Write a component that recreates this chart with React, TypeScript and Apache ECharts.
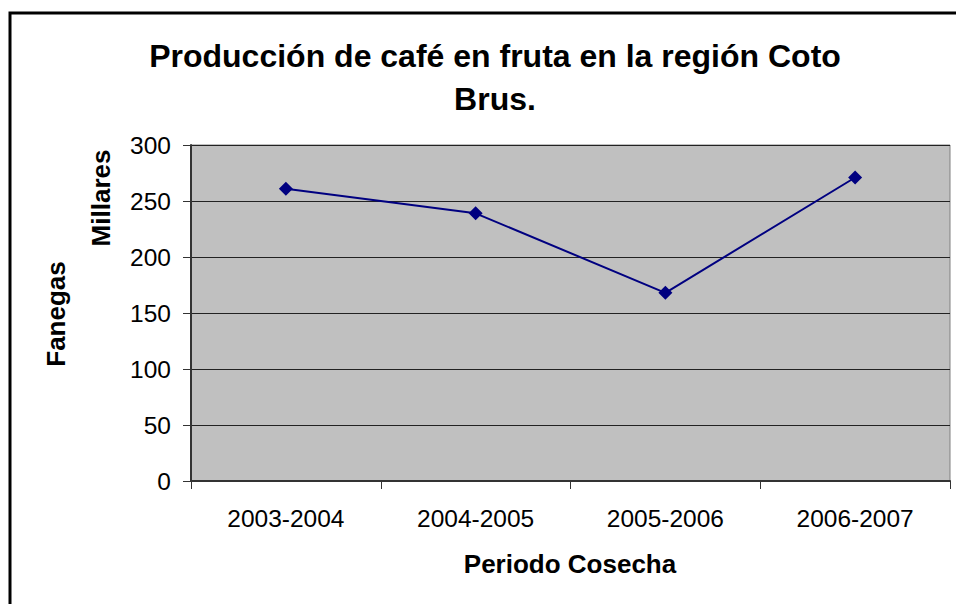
import React, { useEffect, useRef } from "react";
import * as echarts from "echarts";

const titleLines = ["Producción de café en fruta en la región Coto", "Brus."];
const categories = ["2003-2004", "2004-2005", "2005-2006", "2006-2007"];
const values = [261, 239, 168, 271];
const yTicks = { min: 0, max: 300, interval: 50 };
const xAxisName = "Periodo Cosecha";
const yAxisName = "Fanegas";
const yUnitName = "Millares";

const FONT = "'Liberation Sans', Arial, sans-serif";

export default function App() {
  const ref = useRef<HTMLDivElement>(null);
  useEffect(() => {
    document.body.style.margin = "0";
    const chart = echarts.init(ref.current!, null, { renderer: "svg" });
    chart.setOption({
      animation: false,
      backgroundColor: "#ffffff",
      title: {
        text: titleLines.join("\n"),
        left: 490,
        top: 29,
        textAlign: "center",
        textStyle: {
          fontFamily: FONT,
          fontSize: 32,
          fontWeight: "bold",
          color: "#000",
          lineHeight: 43,
        },
      },
      grid: {
        left: 191,
        top: 145,
        right: 6,
        bottom: 123,
        show: true,
        backgroundColor: "#C0C0C0",
        borderColor: "#808080",
        borderWidth: 1,
      },
      xAxis: {
        type: "category",
        data: categories,
        boundaryGap: true,
        axisLine: { show: true, lineStyle: { color: "#333", width: 2 } },
        axisTick: { show: true, length: 8, lineStyle: { color: "#333", width: 1 } },
        axisLabel: {
          margin: 25,
          fontFamily: FONT,
          fontSize: 24.5,
          color: "#000",
        },
        splitLine: { show: false },
      },
      yAxis: {
        type: "value",
        min: yTicks.min,
        max: yTicks.max,
        interval: yTicks.interval,
        axisLine: { show: true, lineStyle: { color: "#333", width: 2 } },
        axisTick: { show: true, length: 8, lineStyle: { color: "#333", width: 1 } },
        axisLabel: {
          margin: 20,
          fontFamily: FONT,
          fontSize: 24.5,
          color: "#000",
        },
        splitLine: { show: true, lineStyle: { color: "#222", width: 1 } },
      },
      graphic: [
        {
          type: "rect",
          shape: { x: 10, y: 13, width: 1100, height: 800 },
          style: { fill: "none", stroke: "#000", lineWidth: 3 },
          silent: true,
          z: -10,
        },
        {
          type: "text",
          x: 570,
          y: 564,
          style: {
            text: xAxisName,
            font: `bold 26px ${FONT}`,
            fill: "#000",
            align: "center",
            verticalAlign: "middle",
          },
        },
        {
          type: "text",
          x: 56,
          y: 314,
          rotation: Math.PI / 2,
          style: {
            text: yAxisName,
            font: `bold 26px ${FONT}`,
            fill: "#000",
            align: "center",
            verticalAlign: "middle",
          },
        },
        {
          type: "text",
          x: 101,
          y: 198,
          rotation: Math.PI / 2,
          style: {
            text: yUnitName,
            font: `bold 26px ${FONT}`,
            fill: "#000",
            align: "center",
            verticalAlign: "middle",
          },
        },
      ],
      series: [
        {
          type: "line",
          data: values,
          symbol: "diamond",
          symbolSize: 14,
          lineStyle: { color: "#000080", width: 2 },
          itemStyle: { color: "#000080" },
        },
      ],
    });
    return () => chart.dispose();
  }, []);
  return (
    <div
      ref={ref}
      style={{ position: "fixed", left: 0, top: 0, width: 956, height: 604 }}
    />
  );
}
